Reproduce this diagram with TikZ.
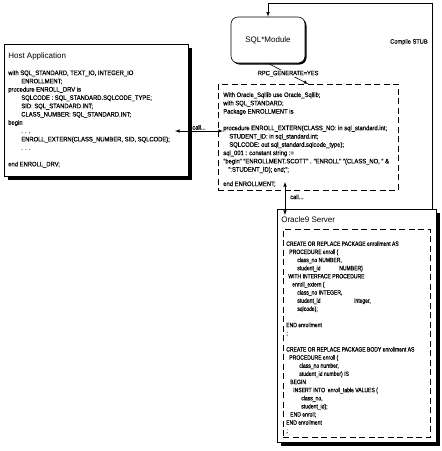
\documentclass[tikz,border=0pt]{standalone}
\usepackage{fontspec}
\setmainfont{Liberation Sans}
\newfontfamily\codefont[FakeStretch=0.9,FakeBold=0.4]{Liberation Sans}
\newfontfamily\pkgfont[FakeStretch=0.8,FakeBold=0.4]{Liberation Sans}
\usetikzlibrary{arrows,shadows}

\begin{document}
\begin{tikzpicture}[x=1pt,y=-1pt,>=latex,line width=0.6pt,
  panel/.style={draw,fill=white,line width=0.8pt,anchor=north west,
    drop shadow={shadow xshift=3.5pt,shadow yshift=-3.5pt,opacity=1,fill=black}},
  module/.style={draw,fill=white,rounded corners=7pt,minimum width=74pt,minimum height=46pt,
    font=\fontsize{8}{9}\selectfont,
    drop shadow={shadow xshift=1.5pt,shadow yshift=-1.5pt,opacity=1,fill=black}},
  inner/.style={draw,dash pattern=on 6pt off 3.5pt,anchor=north west},
  title/.style={anchor=west,inner sep=0pt,font=\fontsize{8}{9}\selectfont},
  code/.style={anchor=north west,inner sep=0pt,align=left,font=\codefont\fontsize{6.5}{8.3}\selectfont},
  pkgcode/.style={code,font=\pkgfont\fontsize{6.3}{8.13}\selectfont},
  label/.style={inner sep=1pt,font=\codefont\fontsize{6.3}{7}\selectfont}]

  \useasboundingbox (0,0) rectangle (442,451);

  % host side
  \node[panel,minimum width=184pt,minimum height=132pt] (host) at (4,44) {};
  \node[title] (hosttitle) at (8,56) {Host Application};
  \node[code] (hostcode) at (8,70) {with SQL\_STANDARD, TEXT\_IO, INTEGER\_IO\\
    \hspace*{13pt}ENROLLMENT;\\
    procedure ENROLL\_DRV is\\
    \hspace*{13pt}SQLCODE : SQL\_STANDARD.SQLCODE\_TYPE;\\
    \hspace*{13pt}SID: SQL\_STANDARD.INT;\\
    \hspace*{13pt}CLASS\_NUMBER: SQL\_STANDARD.INT;\\
    begin\\
    \hspace*{13pt}. . .\\
    \hspace*{13pt}ENROLL\_EXTERN(CLASS\_NUMBER, SID, SQLCODE);\\
    \hspace*{13pt}. . .\\[8.3pt]
    end ENROLL\_DRV;};

  % precompiler and generated stub
  \node[module] (sqlmod) at (268,40) {SQL*Module};
  \node[inner,minimum width=180pt,minimum height=106pt] (stub) at (218,84) {};
  \node[code] (stubcode) at (223,92) {With Oracle\_Sqllib use Oracle\_Sqllib;\\
    with SQL\_STANDARD;\\
    Package ENROLLMENT is\\[8.3pt]
    procedure ENROLL\_EXTERN(CLASS\_NO: in sql\_standard.int;\\
    \hspace*{6pt}STUDENT\_ID: in sql\_standard.int;\\
    \hspace*{6pt}SQLCODE: out sql\_standard.sqlcode\_type);\\
    sql\_001 : constant string :=\\
    "begin" "ENROLLMENT.SCOTT" . "ENROLL" "(CLASS\_NO, " \&\\
    \hspace*{5pt}":STUDENT\_ID); end;";\\[6pt]
    end ENROLLMENT;};

  % server side
  \node[panel,minimum width=159pt,minimum height=233pt] (oracle) at (277,209) {};
  \node[title] (oratitle) at (281,220) {Oracle9 Server};
  \node[inner,minimum width=147pt,minimum height=208pt] (pkg) at (283,229) {};
  \node[pkgcode] (pkgcode) at (286,241) {CREATE OR REPLACE PACKAGE enrollment AS\\
    \hspace*{3pt}PROCEDURE enroll (\\
    \hspace*{11pt}class\_no NUMBER,\\
    \hspace*{11pt}\makebox[42pt][l]{student\_id}NUMBER)\\
    \hspace*{2pt}WITH INTERFACE PROCEDURE\\
    \hspace*{6pt}enroll\_extern (\\
    \hspace*{11pt}class\_no INTEGER,\\
    \hspace*{11pt}\makebox[57pt][l]{student\_id}integer,\\
    \hspace*{11pt}sqlcode);\\[8.13pt]
    END enrollment\\
    ;\\[8.13pt]
    CREATE OR REPLACE PACKAGE BODY enrollment AS\\
    \hspace*{3pt}PROCEDURE enroll (\\
    \hspace*{13pt}class\_no number,\\
    \hspace*{13pt}student\_id number) IS\\
    \hspace*{4pt}BEGIN\\
    \hspace*{7pt}INSERT INTO \ enroll\_table VALUES (\\
    \hspace*{15pt}class\_no,\\
    \hspace*{15pt}student\_id);\\
    \hspace*{4pt}END enroll;\\
    END enrollment\\
    ;};

  % connectors
  \coordinate (stubline) at (432,3);
  \coordinate (callhost) at (175,131);
  \coordinate (callstub) at (223,131);
  \coordinate (callpkg) at (285,182);
  \coordinate (callora) at (285,215);

  \draw[->] (oracle.north -| stubline) -- (stubline) -| (sqlmod.north);
  \node[label,anchor=east] (stublabel) at (429,42) {Compile STUB};
  \draw[->] (sqlmod.south) -- node[label,fill=white] (rpclabel) {RPC\_GENERATE=YES} (stub.north);
  \draw[<->] (callhost) -- node[label,above] (calla) {call...} (callstub);
  \draw[<->] (callpkg) -- node[label,right,pos=0.45,xshift=4pt] (callb) {call...} (callora);
\end{tikzpicture}
\end{document}
